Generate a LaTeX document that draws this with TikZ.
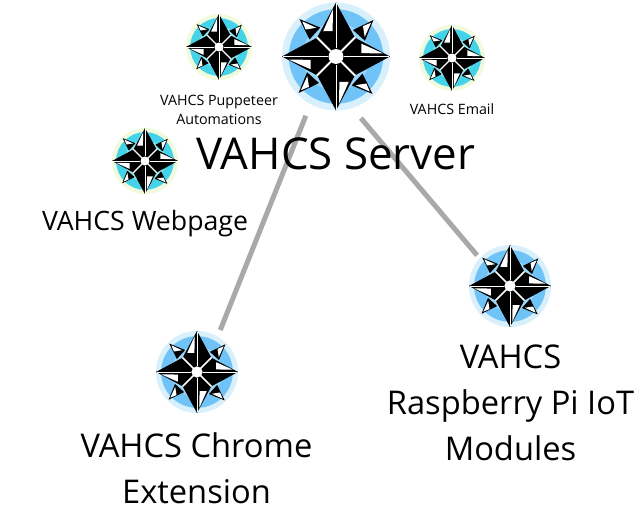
\documentclass[tikz,border=0pt]{standalone}
\usepackage{fontspec}
\setmainfont{Open Sans}
\definecolor{bringA}{HTML}{D8EFFC}
\definecolor{bringB}{HTML}{6FC3F7}
\definecolor{bringC}{HTML}{9AD6F9}
\definecolor{cringA}{HTML}{EFFBDC}
\definecolor{cringB}{HTML}{45D3EA}
\definecolor{cringC}{HTML}{8FE6F0}
\definecolor{linkgray}{HTML}{A9A9A9}
\tikzset{
  hub/.style={circle,inner sep=0pt,outer sep=0pt},
  link/.style={draw=linkgray,line width=3.75pt},
  big/.style={font=\fontsize{32.9}{44}\selectfont,align=center},
  mid/.style={font=\fontsize{24.5}{34.5}\selectfont,align=center},
  web/.style={font=\fontsize{20}{24}\selectfont,align=center},
  small/.style={font=\fontsize{10.7}{14}\selectfont,align=center},
}
\newcommand{\compass}[8]{%
  % name, x, y, drawn radius, hub diameter, colours
  \node[hub,minimum size=#5*0.75pt] (#1) at (#2,#3) {};
  \pgfmathsetlengthmacro{\uu}{#4*0.75pt/160}
  \begin{scope}[shift={(#2,#3)},x=\uu,y=\uu]
    \fill[#6] (0,0) circle (160);
    \fill[#7] (0,0) circle (140);
    \fill[#8] (0,0) circle (100);
    \foreach \a in {0,90,180,270}{
      \begin{scope}[rotate=\a]
        \fill[black] (0,160) -- (56,56) -- (160,0) -- (0,0) -- cycle;
        \filldraw[black,line width=4*\uu,line join=miter] (54,78) -- (107,104) -- (85,50) -- cycle;
      \end{scope}
    }
    \foreach \a in {0,90,180,270}{
      \begin{scope}[rotate=\a]
        \draw[white,line width=6*\uu] (0,0) -- (57,57);
        \draw[white,line width=2.5*\uu] (0,25) -- (0,158);
        \fill[white] (75,10) -- (140,9) -- (75,38) -- cycle;
        \fill[white] (80,90) -- (104,100) -- (85,58) -- cycle;
      \end{scope}
    }
    \fill[white] (0,0) circle (22);
  \end{scope}
}
\begin{document}
\begin{tikzpicture}[x=0.75pt,y=-0.75pt]
\useasboundingbox (0,0) rectangle (637,524);
\fill[white] (0,0) rectangle (637,524);
\compass{server}{336}{56.5}{54}{133}{bringA}{bringB}{bringC}
\compass{chrome}{197}{372}{41}{96}{bringA}{bringB}{bringC}
\compass{pi}{510}{286}{41}{90}{bringA}{bringB}{bringC}
\compass{pup}{219}{47}{33}{66}{cringA}{cringB}{cringC}
\compass{email}{452}{58}{33}{66}{cringA}{cringB}{cringC}
\compass{webicon}{145}{161}{33}{66}{cringA}{cringB}{cringC}
\draw[link] (server.-117) -- (chrome.61);
\draw[link] (server.-68) -- (pi.137);
\node[big] (t1) at (336,154) {VAHCS Server};
\node[web] (t2) at (145,224) {VAHCS Webpage};
\node[small] (t3) at (219,110) {VAHCS Puppeteer\\Automations};
\node[small] (t4) at (452,109.5) {VAHCS Email};
\node[mid] (t5) at (196.5,468.5) {VAHCS Chrome\\Extension};
\node[mid] (t6) at (510.5,403) {VAHCS\\Raspberry Pi IoT\\Modules};
\end{tikzpicture}
\end{document}
